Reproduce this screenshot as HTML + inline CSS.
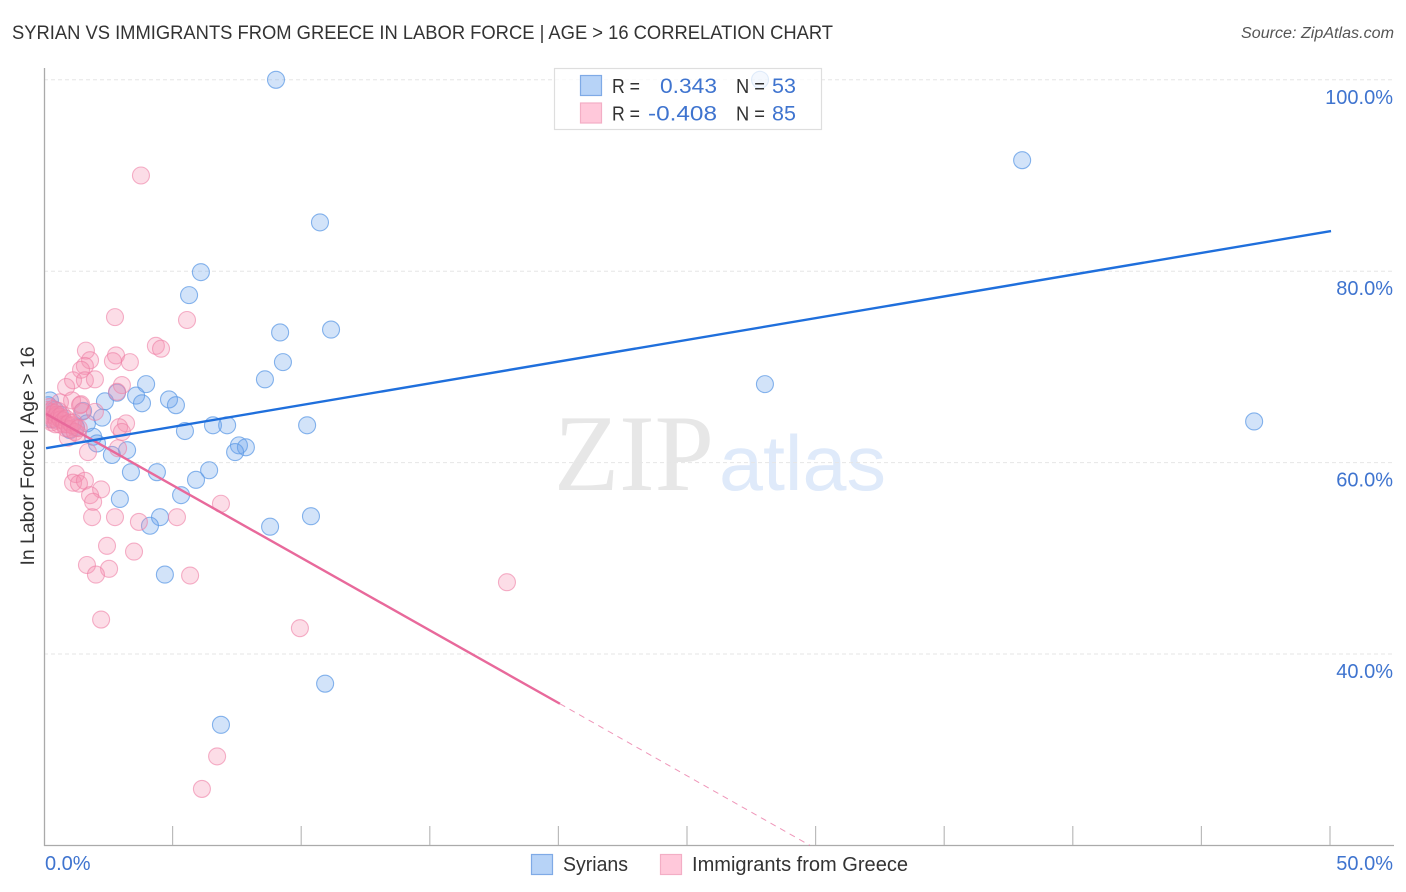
<!DOCTYPE html>
<html lang="en">
<head>
<meta charset="utf-8">
<title>Syrian vs Immigrants from Greece in Labor Force | Age > 16 Correlation Chart</title>
<style>
html,body{margin:0;padding:0;background:#fff;width:1406px;height:892px;overflow:hidden}
svg{display:block;font-family:"Liberation Sans",sans-serif}
</style>
</head>
<body>
<svg id="chart" xmlns="http://www.w3.org/2000/svg" width="1406" height="892" viewBox="0 0 1406 892">
  <defs>
    <clipPath id="plot-clip"><rect x="45.5" y="60" width="1350" height="785"/></clipPath>
  </defs>
  <rect width="1406" height="892" fill="#fff"/>
  <text x="12" y="39" font-size="19" fill="#333" textLength="821" lengthAdjust="spacingAndGlyphs">SYRIAN VS IMMIGRANTS FROM GREECE IN LABOR FORCE | AGE &gt; 16 CORRELATION CHART</text>
  <text x="1241" y="38" font-size="15.5" font-style="italic" fill="#555" textLength="153" lengthAdjust="spacingAndGlyphs">Source: ZipAtlas.com</text>
  <text x="554" y="490" font-family="'Liberation Serif',serif" font-size="109" fill="#e7e7e7" textLength="160" lengthAdjust="spacingAndGlyphs">ZIP</text>
  <text x="719" y="490" font-size="78" fill="#dfeafa" textLength="167" lengthAdjust="spacingAndGlyphs">atlas</text>
  <g id="grid"></g>
  <g id="axes"></g>
  <g clip-path="url(#plot-clip)">
    <g id="blue-points"></g>
    <g id="pink-points"></g>
  </g>
  <g id="trends"></g>
  <g id="ticks"></g>
  <text transform="translate(34,456) rotate(-90)" font-size="19" fill="#333" text-anchor="middle" textLength="219" lengthAdjust="spacingAndGlyphs">In Labor Force | Age &gt; 16</text>

  <g>
    <rect x="554.5" y="68.5" width="267" height="61" fill="#fff" fill-opacity="0.75" stroke="#dedede" stroke-width="1.2"/>
    <rect x="580.5" y="75.5" width="21" height="20" fill="#b7d3f7" stroke="#7faae6" stroke-width="1.2"/>
    <rect x="580.5" y="103" width="21" height="20" fill="#ffc8da" stroke="#f3aec5" stroke-width="1.2"/>
    <text x="612" y="93" font-size="20" fill="#333" textLength="28" lengthAdjust="spacingAndGlyphs">R =</text>
    <text x="660" y="93" font-size="21.5" fill="#3f74cf" textLength="57" lengthAdjust="spacingAndGlyphs">0.343</text>
    <text x="736" y="93" font-size="20" fill="#333" textLength="29" lengthAdjust="spacingAndGlyphs">N =</text>
    <text x="772" y="93" font-size="21.5" fill="#3f74cf">53</text>
    <text x="612" y="120.5" font-size="20" fill="#333" textLength="28" lengthAdjust="spacingAndGlyphs">R =</text>
    <text x="648" y="120.5" font-size="21.5" fill="#3f74cf" textLength="69" lengthAdjust="spacingAndGlyphs">-0.408</text>
    <text x="736" y="120.5" font-size="20" fill="#333" textLength="29" lengthAdjust="spacingAndGlyphs">N =</text>
    <text x="772" y="120.5" font-size="21.5" fill="#3f74cf">85</text>
  </g>

  <g>
    <rect x="531.5" y="854.5" width="21" height="20" fill="#b7d3f7" stroke="#7faae6" stroke-width="1.2"/>
    <text x="563" y="871" font-size="20" fill="#333" textLength="65" lengthAdjust="spacingAndGlyphs">Syrians</text>
    <rect x="660.5" y="854.5" width="21" height="20" fill="#ffc8da" stroke="#f3aec5" stroke-width="1.2"/>
    <text x="692" y="871" font-size="20" fill="#333" textLength="216" lengthAdjust="spacingAndGlyphs">Immigrants from Greece</text>
  </g>
</svg>
<script>
const yTicks = [100, 80, 60, 40];
const yTickLabels = ["100.0%", "80.0%", "60.0%", "40.0%"];
const xTicks = [5, 10, 15, 20, 25, 30, 35, 40, 45, 50];
const xEndLabels = ["0.0%", "50.0%"];

const syriansX = [9.02,27.84,38.03,10.73,6.10,5.64,9.18,11.16,9.29,8.59,3.97,28.03,3.58,2.37,4.86,3.81,5.13,2.84,1.52,2.26,47.05,5.48,6.57,7.12,10.23,1.67,1.24,1.91,2.06,3.23,2.64,7.58,7.85,7.43,3.38,4.39,6.42,5.91,5.33,2.95,4.51,10.38,4.12,8.79,4.70,10.93,6.88,0.23,0.16,0.43,0.62,1.01,0.31];
const syriansY = [100,100,91.6,85.1,79.9,77.5,73.6,73.9,70.5,68.7,68.2,68.2,67.0,66.4,66.6,66.2,66.0,67.3,65.4,64.7,64.3,63.3,63.9,63.9,63.9,64.1,63.7,62.7,62.0,61.3,60.8,61.8,61.6,61.1,59.0,59.0,59.2,58.2,56.6,56.2,54.3,54.4,53.4,53.3,48.3,36.9,32.6,66.5,66.0,65.5,65.0,63.4,64.5];

const greeceX = [3.77,2.76,5.56,4.35,4.55,1.63,2.80,1.79,2.68,3.34,1.59,1.44,1.13,1.59,1.98,0.86,3.03,2.84,1.09,1.44,0.62,1.48,1.98,1.40,3.19,2.92,3.03,1.24,1.32,0.93,1.71,2.88,1.24,1.13,1.36,1.59,2.22,1.79,1.91,1.87,2.76,3.69,5.17,6.88,2.45,3.50,1.67,2.53,2.02,5.68,18.0,2.22,9.95,6.73,6.14,0.1,0.15,0.2,0.2,0.25,0.3,0.3,0.35,0.35,0.4,0.45,0.45,0.5,0.5,0.55,0.6,0.6,0.65,0.7,0.75,0.8,0.85,0.85,0.9,1.0,1.0,1.1,1.15,1.2,1.35];
const greeceY = [90,75.2,74.9,72.2,71.9,71.7,71.2,70.7,70.6,70.5,70.1,69.7,68.6,68.6,68.7,67.9,68.1,67.4,66.5,66.1,66.3,65.3,65.3,66.0,64.1,63.7,63.2,63.6,63.0,62.6,61.1,61.5,58.8,57.9,57.8,58.1,57.2,56.6,55.9,54.3,54.3,53.8,54.3,55.7,51.3,50.7,49.3,48.9,48.3,48.2,47.5,43.6,42.7,29.3,25.9,65.5,65,65.8,64.5,65.3,65,64.2,65.6,64.6,65.2,64.8,64,65,64.4,65.4,64.8,64,64.5,65,64.4,64,64.6,63.6,64,64.2,63.5,63.9,64.2,63.2,63.6];

const syriansTrendX = [0.08, 50.04];
const syriansTrendY = [61.5, 84.2];
const greeceTrendX = [0.08, 20.06];
const greeceTrendY = [65.1, 34.8];
const greeceDashX = [20.06, 29.78];
const greeceDashY = [34.8, 20.0];

const NS = "http://www.w3.org/2000/svg";
function xScale(v) { return 44 + v * 25.72; }
function yScale(v) { return 654 - (v - 40) * 9.57; }
function mk(tag, attrs, parent) {
  const el = document.createElementNS(NS, tag);
  for (const k in attrs) el.setAttribute(k, attrs[k]);
  parent.appendChild(el);
  return el;
}

const gridG = document.getElementById("grid");
yTicks.forEach(function (t) {
  const gl = mk("line", {x1: 44, x2: 1394, y1: yScale(t), y2: yScale(t), stroke: "#e6e6e6", "stroke-width": 1, "stroke-dasharray": "4 3"}, gridG);
  
  
});

const axesG = document.getElementById("axes");
const yAxisLine = mk("line", {x1: 44.5, x2: 44.5, y1: 68, y2: 846, stroke: "#aaa", "stroke-width": 1.3}, axesG);


const xAxisLine = mk("line", {x1: 44, x2: 1394, y1: 845.5, y2: 845.5, stroke: "#aaa", "stroke-width": 1.3}, axesG);


xTicks.forEach(function (t) {
  const tk = mk("line", {x1: xScale(t), x2: xScale(t), y1: 826, y2: 845, stroke: "#bbb", "stroke-width": 1.2}, axesG);
  
  
});

const blueG = document.getElementById("blue-points");
syriansX.forEach(function (x, i) {
  const c = mk("circle", {cx: xScale(x), cy: yScale(syriansY[i]), r: 8.5, fill: "#6ba3ea", "fill-opacity": 0.3, stroke: "#5f9be6", "stroke-opacity": 0.75, "stroke-width": 1.1}, blueG);
  
  
});

const pinkG = document.getElementById("pink-points");
greeceX.forEach(function (x, i) {
  const c = mk("circle", {cx: xScale(x), cy: yScale(greeceY[i]), r: 8.5, fill: "#f48fb1", "fill-opacity": 0.3, stroke: "#ee7fa5", "stroke-opacity": 0.6, "stroke-width": 1.1}, pinkG);
  
  
});

const trendG = document.getElementById("trends");
const greeceLine = mk("line", {x1: xScale(greeceTrendX[0]), y1: yScale(greeceTrendY[0]), x2: xScale(greeceTrendX[1]), y2: yScale(greeceTrendY[1]), stroke: "#e8699b", "stroke-width": 2.4}, trendG);


const greeceDash = mk("line", {x1: xScale(greeceDashX[0]), y1: yScale(greeceDashY[0]), x2: xScale(greeceDashX[1]), y2: yScale(greeceDashY[1]), stroke: "#e8699b", "stroke-width": 1, "stroke-dasharray": "6 5", "stroke-opacity": 0.7}, trendG);


const syriansLine = mk("line", {x1: xScale(syriansTrendX[0]), y1: yScale(syriansTrendY[0]), x2: xScale(syriansTrendX[1]), y2: yScale(syriansTrendY[1]), stroke: "#1f6fdc", "stroke-width": 2.4}, trendG);



const ticksG = document.getElementById("ticks");
yTicks.forEach(function (t, i) {
  const lb = mk("text", {x: 1393, y: yScale(t) + 24, "font-size": 20, fill: "#3f74cf", "text-anchor": "end"}, ticksG);
  lb.textContent = yTickLabels[i];
  
  
});
const xStart = mk("text", {x: 45, y: 870, "font-size": 20, fill: "#3f74cf"}, ticksG);
xStart.textContent = xEndLabels[0];


const xEnd = mk("text", {x: 1393, y: 870, "font-size": 20, fill: "#3f74cf", "text-anchor": "end"}, ticksG);
xEnd.textContent = xEndLabels[1];


</script>
</body>
</html>
